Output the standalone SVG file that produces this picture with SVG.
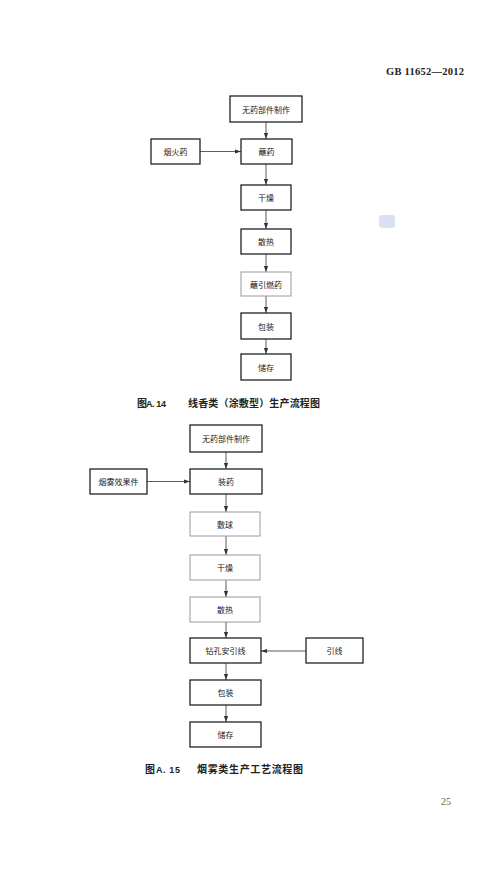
<svg xmlns="http://www.w3.org/2000/svg" width="500" height="870" viewBox="0 0 500 870">
<style>
.box{fill:#fff;stroke:#222;stroke-width:1.3}
.lbox{fill:#fff;stroke:#9a9a9a;stroke-width:1}
.t{font-family:"Noto Sans CJK SC",sans-serif;font-size:8px;fill:#222;text-anchor:middle;dominant-baseline:central}
.cap{font-family:"Noto Sans CJK SC",sans-serif;font-size:10px;font-weight:bold;fill:#222}
.capn{font-family:"Liberation Sans",Arial,sans-serif;font-size:9px;font-weight:bold;fill:#222}
.ln{stroke:#333;stroke-width:0.8;fill:none;marker-end:url(#ah)}
</style>
<defs>
<marker id="ah" viewBox="0 0 10 10" refX="10" refY="5" markerWidth="6" markerHeight="6" markerUnits="userSpaceOnUse" orient="auto">
<path d="M0,1.5 L10,5 L0,8.5 Z" fill="#333"/>
</marker>
</defs>
<rect width="500" height="870" fill="#fff"/>
<text x="386" y="75" font-family="Liberation Serif,serif" font-size="10.5" font-weight="bold" fill="#222" textLength="78">GB 11652—2012</text>
<rect x="379" y="215" width="16" height="13" rx="3" fill="#c8d4ec" opacity="0.7"/>

<g id="connectors">
<line class="ln" x1="266" y1="122" x2="266" y2="139"/>
<line class="ln" x1="200" y1="151.5" x2="241" y2="151.5"/>
<line class="ln" x1="266" y1="164" x2="266" y2="185"/>
<line class="ln" x1="266" y1="210" x2="266" y2="229"/>
<line class="ln" x1="266" y1="254" x2="266" y2="272"/>
<line class="ln" x1="266" y1="296" x2="266" y2="313"/>
<line class="ln" x1="266" y1="339" x2="266" y2="354"/>

<line class="ln" x1="226" y1="452" x2="226" y2="469"/>
<line class="ln" x1="147" y1="481.5" x2="190" y2="481.5"/>
<line class="ln" x1="226" y1="494" x2="226" y2="512"/>
<line class="ln" x1="226" y1="536" x2="226" y2="555"/>
<line class="ln" x1="226" y1="580" x2="226" y2="597"/>
<line class="ln" x1="226" y1="622" x2="226" y2="638"/>
<line class="ln" x1="306" y1="651" x2="261" y2="651"/>
<line class="ln" x1="226" y1="663" x2="226" y2="680"/>
<line class="ln" x1="226" y1="705" x2="226" y2="722"/>
</g>

<g id="a14_n1"><rect class="box" x="230" y="96" width="72" height="26"/><text class="t" x="266" y="109">无药部件制作</text></g>
<g id="a14_n2"><rect class="box" x="151" y="139" width="49" height="25"/><text class="t" x="175.5" y="151.5">烟火药</text></g>
<g id="a14_n3"><rect class="box" x="241" y="139" width="51" height="25"/><text class="t" x="266.5" y="151.5">蘸药</text></g>
<g id="a14_n4"><rect class="box" x="241" y="185" width="50" height="25"/><text class="t" x="266" y="197.5">干燥</text></g>
<g id="a14_n5"><rect class="box" x="241" y="229" width="50" height="25"/><text class="t" x="266" y="241.5">散热</text></g>
<g id="a14_n6"><rect class="lbox" x="241" y="272" width="50" height="24"/><text class="t" x="266" y="284">蘸引燃药</text></g>
<g id="a14_n7"><rect class="box" x="241" y="313" width="50" height="26"/><text class="t" x="266" y="326">包装</text></g>
<g id="a14_n8"><rect class="box" x="241" y="354" width="50" height="26"/><text class="t" x="266" y="367">储存</text></g>

<text class="cap" x="137" y="407" font-size="9">图</text>
<text class="capn" x="146" y="407" textLength="20">A. 14</text>
<text class="cap" x="188" y="407" textLength="132">线香类（涂敷型）生产流程图</text>

<g id="a15_n1"><rect class="box" x="190" y="425" width="72" height="27"/><text class="t" x="226" y="438.5">无药部件制作</text></g>
<g id="a15_n2"><rect class="box" x="90" y="469" width="57" height="25"/><text class="t" x="118.5" y="481.5">烟雾效果件</text></g>
<g id="a15_n3"><rect class="box" x="190" y="469" width="72" height="25"/><text class="t" x="226" y="481.5">装药</text></g>
<g id="a15_n4"><rect class="lbox" x="190" y="512" width="70" height="24"/><text class="t" x="225" y="524">敷球</text></g>
<g id="a15_n5"><rect class="lbox" x="190" y="555" width="70" height="25"/><text class="t" x="225" y="567.5">干燥</text></g>
<g id="a15_n6"><rect class="lbox" x="190" y="597" width="70" height="25"/><text class="t" x="225" y="609.5">散热</text></g>
<g id="a15_n7"><rect class="box" x="190" y="638" width="71" height="25"/><text class="t" x="225.5" y="650.5">钻孔安引线</text></g>
<g id="a15_n8"><rect class="box" x="306" y="638" width="57" height="25"/><text class="t" x="334.5" y="650.5">引线</text></g>
<g id="a15_n9"><rect class="box" x="190" y="680" width="71" height="25"/><text class="t" x="225.5" y="692.5">包装</text></g>
<g id="a15_n10"><rect class="box" x="190" y="722" width="71" height="25"/><text class="t" x="225.5" y="734.5">储存</text></g>

<text class="cap" x="145" y="773" font-size="9">图</text>
<text class="capn" x="156" y="773" textLength="24">A. 15</text>
<text class="cap" x="197" y="773" textLength="106">烟雾类生产工艺流程图</text>

<text x="441" y="805" font-family="Liberation Serif,serif" font-size="10" fill="#666">25</text>
</svg>
